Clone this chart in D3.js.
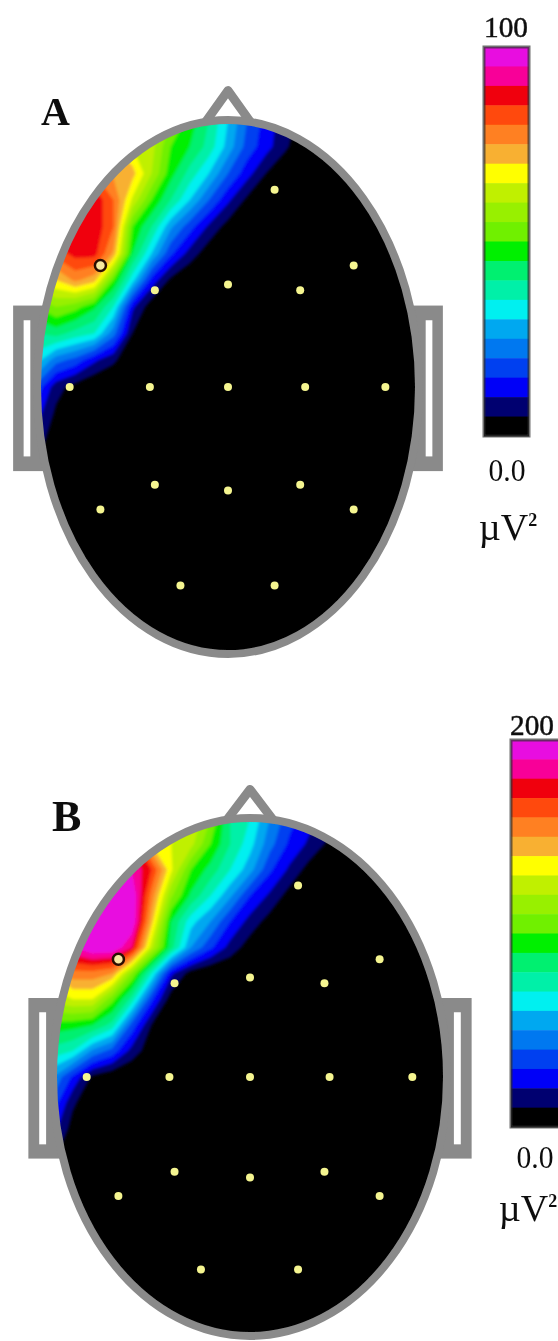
<!DOCTYPE html>
<html>
<head>
<meta charset="utf-8">
<title>Topographic power maps</title>
<script src="https://cdn.jsdelivr.net/npm/d3@7"></script>
<style>
    html, body { margin: 0; padding: 0; background: #fff; }
    svg { display: block; }
    text { font-family: "Liberation Serif", serif; fill: #111; }
</style>
</head>
<body>
<div id="chart"></div>
<script>
const svgWidth = 558, svgHeight = 1341;

// colour steps of the legend, low to high
const bandColors = ['#000000', '#000070', '#0000f8', '#0040f0', '#0078f0', '#00a8f0', '#00f0f0', '#00f0a8', '#00f070', '#00f000',
    '#70f000', '#98f000', '#c0f000', '#ffff00', '#f8b030', '#ff8020', '#ff4a08', '#f00010', '#f80098', '#e810e0'];

// grid of the maps: head coordinates, -1..1 across and 1..-1 down
const gridU = [-1, -0.9, -0.8, -0.7, -0.6, -0.5, -0.4, -0.3, -0.2, -0.1, 0, 0.1, 0.2, 0.3, 0.4, 0.5];
const gridV = [1, 0.9, 0.8, 0.7, 0.6, 0.5, 0.4, 0.3, 0.2, 0.1, 0, -0.1, -0.2, -0.3];

// power, uV^2
const powerA = [
    [0, 0, 0, 0, 0, 70, 65, 55, 48, 40, 30, 20, 13, 7, 3, 0],
    [0, 0, 0, 0, 70, 65, 62, 50, 45, 38, 28, 18, 12, 6, 1, 0],
    [0, 0, 0, 80, 74, 72, 60, 47, 38, 30, 20, 12, 5, 1, 0, 0],
    [0, 86, 86, 89, 80, 64, 50, 40, 30, 20, 11, 4, 0, 0, 0, 0],
    [88, 88, 89, 89, 80, 50, 40, 26, 17, 9, 3, 0, 0, 0, 0, 0],
    [80, 82, 87, 87, 74, 45, 30, 16, 8, 2, 0, 0, 0, 0, 0, 0],
    [65, 70, 76, 72, 50, 32, 13, 4, 0, 0, 0, 0, 0, 0, 0, 0],
    [50, 55, 52, 46, 35, 11, 2, 0, 0, 0, 0, 0, 0, 0, 0, 0],
    [40, 42, 38, 35, 22, 5, 0, 0, 0, 0, 0, 0, 0, 0, 0, 0],
    [32, 22, 18, 11, 6, 1, 0, 0, 0, 0, 0, 0, 0, 0, 0, 0],
    [18, 7, 3, 0, 0, 0, 0, 0, 0, 0, 0, 0, 0, 0, 0, 0],
    [12, 4, 0, 0, 0, 0, 0, 0, 0, 0, 0, 0, 0, 0, 0, 0],
    [8, 1, 0, 0, 0, 0, 0, 0, 0, 0, 0, 0, 0, 0, 0, 0],
    [3, 0, 0, 0, 0, 0, 0, 0, 0, 0, 0, 0, 0, 0, 0, 0]
];

// power, uV^2
const powerB = [
    [0, 0, 0, 0, 0, 150, 140, 130, 110, 80, 70, 50, 34, 24, 14, 6],
    [0, 0, 0, 0, 180, 140, 130, 124, 100, 80, 64, 44, 28, 18, 8, 2],
    [0, 0, 0, 200, 190, 170, 132, 100, 86, 70, 54, 32, 18, 6, 1, 0],
    [0, 0, 200, 200, 200, 156, 112, 88, 70, 52, 30, 18, 6, 0, 0, 0],
    [200, 200, 200, 200, 200, 144, 90, 64, 50, 30, 16, 6, 0, 0, 0, 0],
    [190, 190, 200, 200, 180, 124, 84, 50, 32, 16, 5, 0, 0, 0, 0, 0],
    [140, 156, 156, 150, 110, 70, 22, 6, 0, 0, 0, 0, 0, 0, 0, 0],
    [124, 130, 130, 104, 76, 32, 5, 0, 0, 0, 0, 0, 0, 0, 0, 0],
    [96, 94, 90, 76, 36, 10, 0, 0, 0, 0, 0, 0, 0, 0, 0, 0],
    [76, 70, 48, 36, 16, 4, 0, 0, 0, 0, 0, 0, 0, 0, 0, 0],
    [50, 28, 8, 2, 0, 0, 0, 0, 0, 0, 0, 0, 0, 0, 0, 0],
    [36, 12, 2, 0, 0, 0, 0, 0, 0, 0, 0, 0, 0, 0, 0, 0],
    [24, 6, 0, 0, 0, 0, 0, 0, 0, 0, 0, 0, 0, 0, 0, 0],
    [12, 2, 0, 0, 0, 0, 0, 0, 0, 0, 0, 0, 0, 0, 0, 0]
];

// electrodes in head coordinates
const electrodeU = [0.244, 0.658, -0.668, -0.383, 0, 0.378, -0.829, -0.409, 0, 0.404, 0.824, -0.383, 0, 0.378, -0.668, 0.658, -0.249, 0.244];
const electrodeV = [0.739, 0.455, 0.455, 0.362, 0.384, 0.362, 0, 0, 0, 0, 0, -0.366, -0.388, -0.366, -0.459, -0.459, -0.743, -0.743];
const activeElectrode = 2;

const svg = d3.select('#chart').append('svg')
    .attr('width', svgWidth)
    .attr('height', svgHeight);

const defs = svg.append('defs');
defs.append('filter').attr('id', 'soft')
    .append('feGaussianBlur').attr('stdDeviation', 0.7);
defs.append('filter').attr('id', 'softer')
    .append('feGaussianBlur').attr('stdDeviation', 1.4);

function draw_panel(p) {
    let g = svg.append('g').attr('filter', 'url(#soft)');
    let x = d3.scaleLinear().domain([-1, 1]).range([p.cx - p.rx, p.cx + p.rx]);
    let y = d3.scaleLinear().domain([-1, 1]).range([p.cy + p.ry, p.cy - p.ry]);
    let grey = '#8a8a8a';

    // ears and nose go under the head
    [[-1.125, -0.9, -1.07, -1.035], [0.9, 1.125, 1.035, 1.07]].forEach(e => {
        g.append('rect')
            .attr('x', x(e[0]))
            .attr('y', y(0.305))
            .attr('width', x(e[1]) - x(e[0]))
            .attr('height', y(-0.315) - y(0.305))
            .attr('fill', grey);
        g.append('rect')
            .attr('x', x(e[2]))
            .attr('y', y(0.25))
            .attr('width', x(e[3]) - x(e[2]))
            .attr('height', y(-0.26) - y(0.25))
            .attr('fill', '#fff');
    });
    g.append('path')
        .attr('d', d3.line()([[x(-0.125), y(0.985)], [x(0), y(1.11)], [x(0.125), y(0.985)]]))
        .attr('fill', '#fff')
        .attr('stroke', grey)
        .attr('stroke-width', 9)
        .attr('stroke-linejoin', 'round');

    // head
    let clipId = 'head' + p.name;
    defs.append('clipPath').attr('id', clipId)
        .append('ellipse')
        .attr('cx', p.cx).attr('cy', p.cy).attr('rx', p.rx).attr('ry', p.ry);

    g.append('ellipse')
        .attr('cx', p.cx).attr('cy', p.cy).attr('rx', p.rx).attr('ry', p.ry)
        .attr('fill', bandColors[0]);

    // isobands
    let thresholds = d3.range(1, 20).map(i => i * p.max / 20);
    let color = d3.scaleQuantize().domain([0, p.max]).range(bandColors);
    let contours = d3.contours()
        .size([gridU.length, gridV.length])
        .thresholds(thresholds)(p.power.flat());
    let colIndex = d3.scaleLinear().domain([0, gridU.length - 1]).range([gridU[0], gridU[gridU.length - 1]]);
    let rowIndex = d3.scaleLinear().domain([0, gridV.length - 1]).range([gridV[0], gridV[gridV.length - 1]]);
    let path = d3.geoPath(d3.geoTransform({
        point: function(a, b) {
            this.stream.point(x(colIndex(a - 0.5)), y(rowIndex(b - 0.5)));
        }
    }));
    g.append('g')
        .attr('clip-path', `url(#${clipId})`)
        .append('g')
        .attr('filter', 'url(#softer)')
        .selectAll('path')
        .data(contours)
        .enter()
        .append('path')
        .attr('d', path)
        .attr('fill', d => color(d.value + 0.01));

    g.append('ellipse')
        .attr('cx', p.cx).attr('cy', p.cy).attr('rx', p.rx).attr('ry', p.ry)
        .attr('fill', 'none')
        .attr('stroke', grey)
        .attr('stroke-width', 8);

    // electrodes
    g.append('g')
        .selectAll('circle')
        .data(electrodeU)
        .enter()
        .append('circle')
        .attr('cx', d => x(d))
        .attr('cy', (d, i) => y(electrodeV[i]))
        .attr('r', (d, i) => i == activeElectrode ? 5.5 : 4)
        .attr('fill', (d, i) => i == activeElectrode ? '#f8e8a0' : '#f5f590')
        .attr('stroke', (d, i) => i == activeElectrode ? '#2a1005' : 'none')
        .attr('stroke-width', 2.5);

    // legend
    let barY = d3.scaleBand()
        .domain(d3.range(19, -1, -1))
        .range([p.barTop, p.barBottom]);
    g.append('g')
        .selectAll('rect')
        .data(barY.domain())
        .enter()
        .append('rect')
        .attr('x', p.barX)
        .attr('y', d => barY(d))
        .attr('width', p.barW)
        .attr('height', barY.bandwidth() + 0.5)
        .attr('fill', d => bandColors[d]);
    g.append('rect')
        .attr('x', p.barX).attr('y', p.barTop)
        .attr('width', p.barW).attr('height', p.barBottom - p.barTop)
        .attr('fill', 'none')
        .attr('stroke', 'rgba(50,50,50,0.7)')
        .attr('stroke-width', 3);

    // labels
    let labels = svg.append('g').attr('filter', 'url(#soft)');
    labels.append('text')
        .attr('x', p.letterX).attr('y', p.letterY)
        .attr('font-size', p.letterSize)
        .attr('font-weight', 'bold')
        .text(p.name);
    labels.append('text')
        .attr('x', p.topX).attr('y', p.topY)
        .attr('text-anchor', 'middle')
        .attr('font-size', 30)
        .attr('textLength', 44)
        .attr('lengthAdjust', 'spacingAndGlyphs')
        .attr('stroke', '#111')
        .attr('stroke-width', 0.5)
        .text(p.max);
    labels.append('text')
        .attr('x', p.zeroX).attr('y', p.zeroY)
        .attr('text-anchor', 'middle')
        .attr('font-size', 32)
        .attr('textLength', 37)
        .attr('lengthAdjust', 'spacingAndGlyphs')
        .text('0.0');
    let unit = labels.append('text')
        .attr('x', p.unitX).attr('y', p.unitY)
        .attr('text-anchor', 'middle')
        .attr('font-size', 38);
    unit.append('tspan').text('µV');
    unit.append('tspan').attr('font-size', 18).attr('font-weight', 'bold').attr('dy', -14).text('2');
}

const panels = [
    {name: 'A', power: powerA, max: 100, cx: 228, cy: 387, rx: 191, ry: 267,
        barX: 484, barW: 45, barTop: 47, barBottom: 436, topX: 506, topY: 37, zeroX: 507, zeroY: 481, unitX: 508, unitY: 540,
        letterX: 41, letterY: 125, letterSize: 40},
    {name: 'B', power: powerB, max: 200, cx: 250, cy: 1077, rx: 197, ry: 259,
        barX: 511, barW: 49, barTop: 740, barBottom: 1127, topX: 532, topY: 735, zeroX: 535, zeroY: 1168, unitX: 528, unitY: 1221,
        letterX: 52, letterY: 831, letterSize: 44}
];
panels.forEach(draw_panel);
</script>
</body>
</html>
